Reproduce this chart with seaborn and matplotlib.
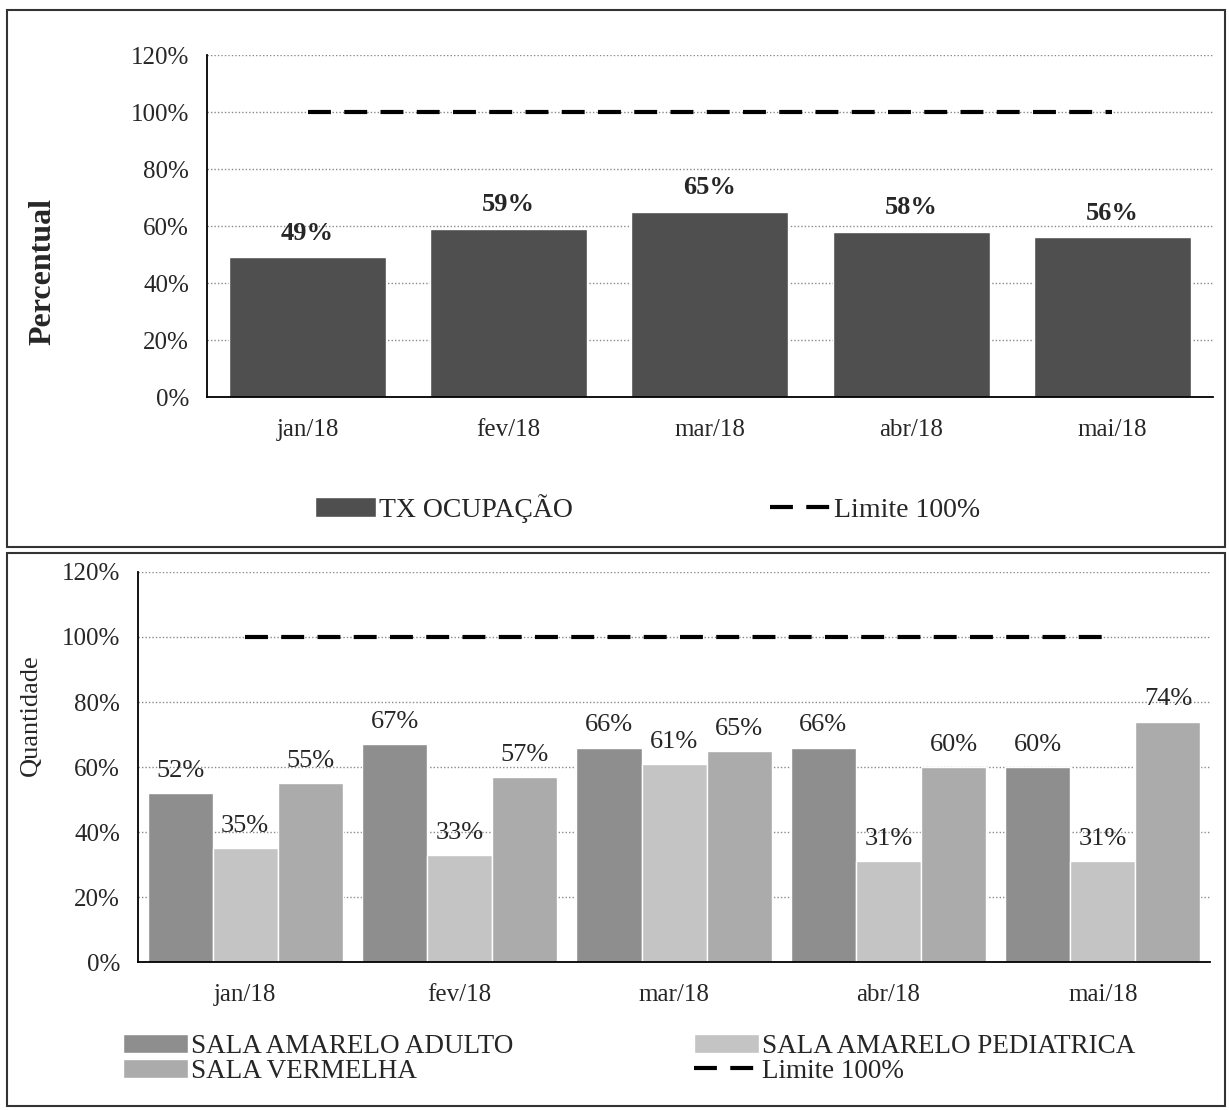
import numpy as np
import pandas as pd
import matplotlib
matplotlib.use("Agg")
import matplotlib.pyplot as plt
import seaborn as sns
from matplotlib.patches import Patch, Rectangle
from matplotlib.lines import Line2D
from matplotlib.ticker import FuncFormatter, MultipleLocator

# dados
meses = ["jan/18", "fev/18", "mar/18", "abr/18", "mai/18"]
tx_ocupacao = [49, 59, 65, 58, 56]
limite = [100, 100, 100, 100, 100]

sala_adulto = [52, 67, 66, 66, 60]
sala_pediatrica = [35, 33, 61, 31, 31]
sala_vermelha = [55, 57, 65, 60, 74]
salas = ["SALA AMARELO ADULTO", "SALA AMARELO PEDIATRICA", "SALA VERMELHA"]
cores_salas = {"SALA AMARELO ADULTO": "#8e8e8e",
               "SALA AMARELO PEDIATRICA": "#c4c4c4",
               "SALA VERMELHA": "#ababab"}

sns.set_style("white")
plt.rcParams['font.family'] = ['Liberation Serif', 'DejaVu Serif']

fig = plt.figure(figsize=(12.29, 11.10), dpi=100)
ax1 = fig.add_axes([0.1684, 0.6423, 0.8185, 0.3081])
ax2 = fig.add_axes([0.1123, 0.1333, 0.8723, 0.3514])

pct = FuncFormatter(lambda v, p: f"{v:.0f}%")


def estilo_eixo(ax):
    ax.set_ylim(0, 120)
    ax.yaxis.set_major_locator(MultipleLocator(20))
    ax.yaxis.set_major_formatter(pct)
    ax.grid(axis='y', color='#8a8a8a', linestyle=(0, (1, 1.5)), linewidth=1)
    ax.set_axisbelow(True)
    for s in ['top', 'right']:
        ax.spines[s].set_visible(False)
    for s in ['left', 'bottom']:
        ax.spines[s].set_color('black')
        ax.spines[s].set_linewidth(1.3)
    ax.set_xlabel('')
    ax.set_ylabel('')
    # ticks do eixo x nas divisas das categorias
    ax.set_xticks(np.arange(-0.5, len(meses) + 0.5, 1), minor=True)
    ax.tick_params(axis='x', which='major', length=0, labelsize=18, pad=16)
    ax.tick_params(axis='x', which='minor', length=6, width=1, direction='out', color='black')
    ax.tick_params(axis='y', length=5, width=1, direction='out', color='black', labelsize=18, pad=8)
    ax.set_xlim(-0.5, len(meses) - 0.5)


# grafico superior - taxa de ocupacao
sns.barplot(x=meses, y=tx_ocupacao, color="#4f4f4f", saturation=1, width=0.78, ax=ax1)
ax1.plot(np.arange(len(meses)), limite, color='black', lw=3, dashes=(5.5, 3.2))
estilo_eixo(ax1)
ax1.bar_label(ax1.containers[0], fmt='%.0f%%', padding=9, fontsize=19, fontweight='bold')

# grafico inferior - salas
df = pd.DataFrame({
    'mes': meses * 3,
    'sala': [salas[0]] * 5 + [salas[1]] * 5 + [salas[2]] * 5,
    'valor': sala_adulto + sala_pediatrica + sala_vermelha,
})
sns.barplot(data=df, x='mes', y='valor', hue='sala', hue_order=salas,
            palette=cores_salas, saturation=1, width=0.91, legend=False, ax=ax2)
ax2.plot(np.arange(len(meses)), limite, color='black', lw=3, dashes=(5.5, 3.2))
estilo_eixo(ax2)
for c in ax2.containers:
    ax2.bar_label(c, fmt='%.0f%%', padding=8, fontsize=19)

# titulos dos eixos
fig.text(0.035, 0.755, "Percentual", rotation=90, ha='center', va='center',
         fontsize=23, fontweight='bold')
fig.text(0.025, 0.356, "Quantidade", rotation=90, ha='center', va='center', fontsize=19)

# legendas
tracejado = Line2D([], [], color='black', lw=3, dashes=(5.5, 3.2))
fig.legend([Patch(facecolor="#4f4f4f"), tracejado], ["TX OCUPAÇÃO", "Limite 100%"],
           loc='center', bbox_to_anchor=(0.527, 0.542), ncol=2, frameon=False,
           fontsize=20, handlelength=2.2, handletextpad=0.1, columnspacing=7.1)

h_salas = [Patch(facecolor=cores_salas[s]) for s in salas]
fig.legend([h_salas[0], h_salas[2], h_salas[1], tracejado],
           [salas[0], salas[2], salas[1], "Limite 100%"],
           loc='center', bbox_to_anchor=(0.512, 0.046), ncol=2, frameon=False,
           fontsize=19.5, handlelength=2.4, handletextpad=0.1, columnspacing=6.7,
           labelspacing=0.0)

# molduras dos paineis
W, H = 1229, 1110
fig.add_artist(Rectangle((7 / W, 1 - 547 / H), 1218 / W, 537 / H, transform=fig.transFigure,
                         fill=False, lw=1.5, edgecolor='#333333'))
fig.add_artist(Rectangle((7 / W, 1 - 1106 / H), 1218 / W, 553 / H, transform=fig.transFigure,
                         fill=False, lw=1.5, edgecolor='#333333'))

fig.savefig("out.png", dpi=100)
